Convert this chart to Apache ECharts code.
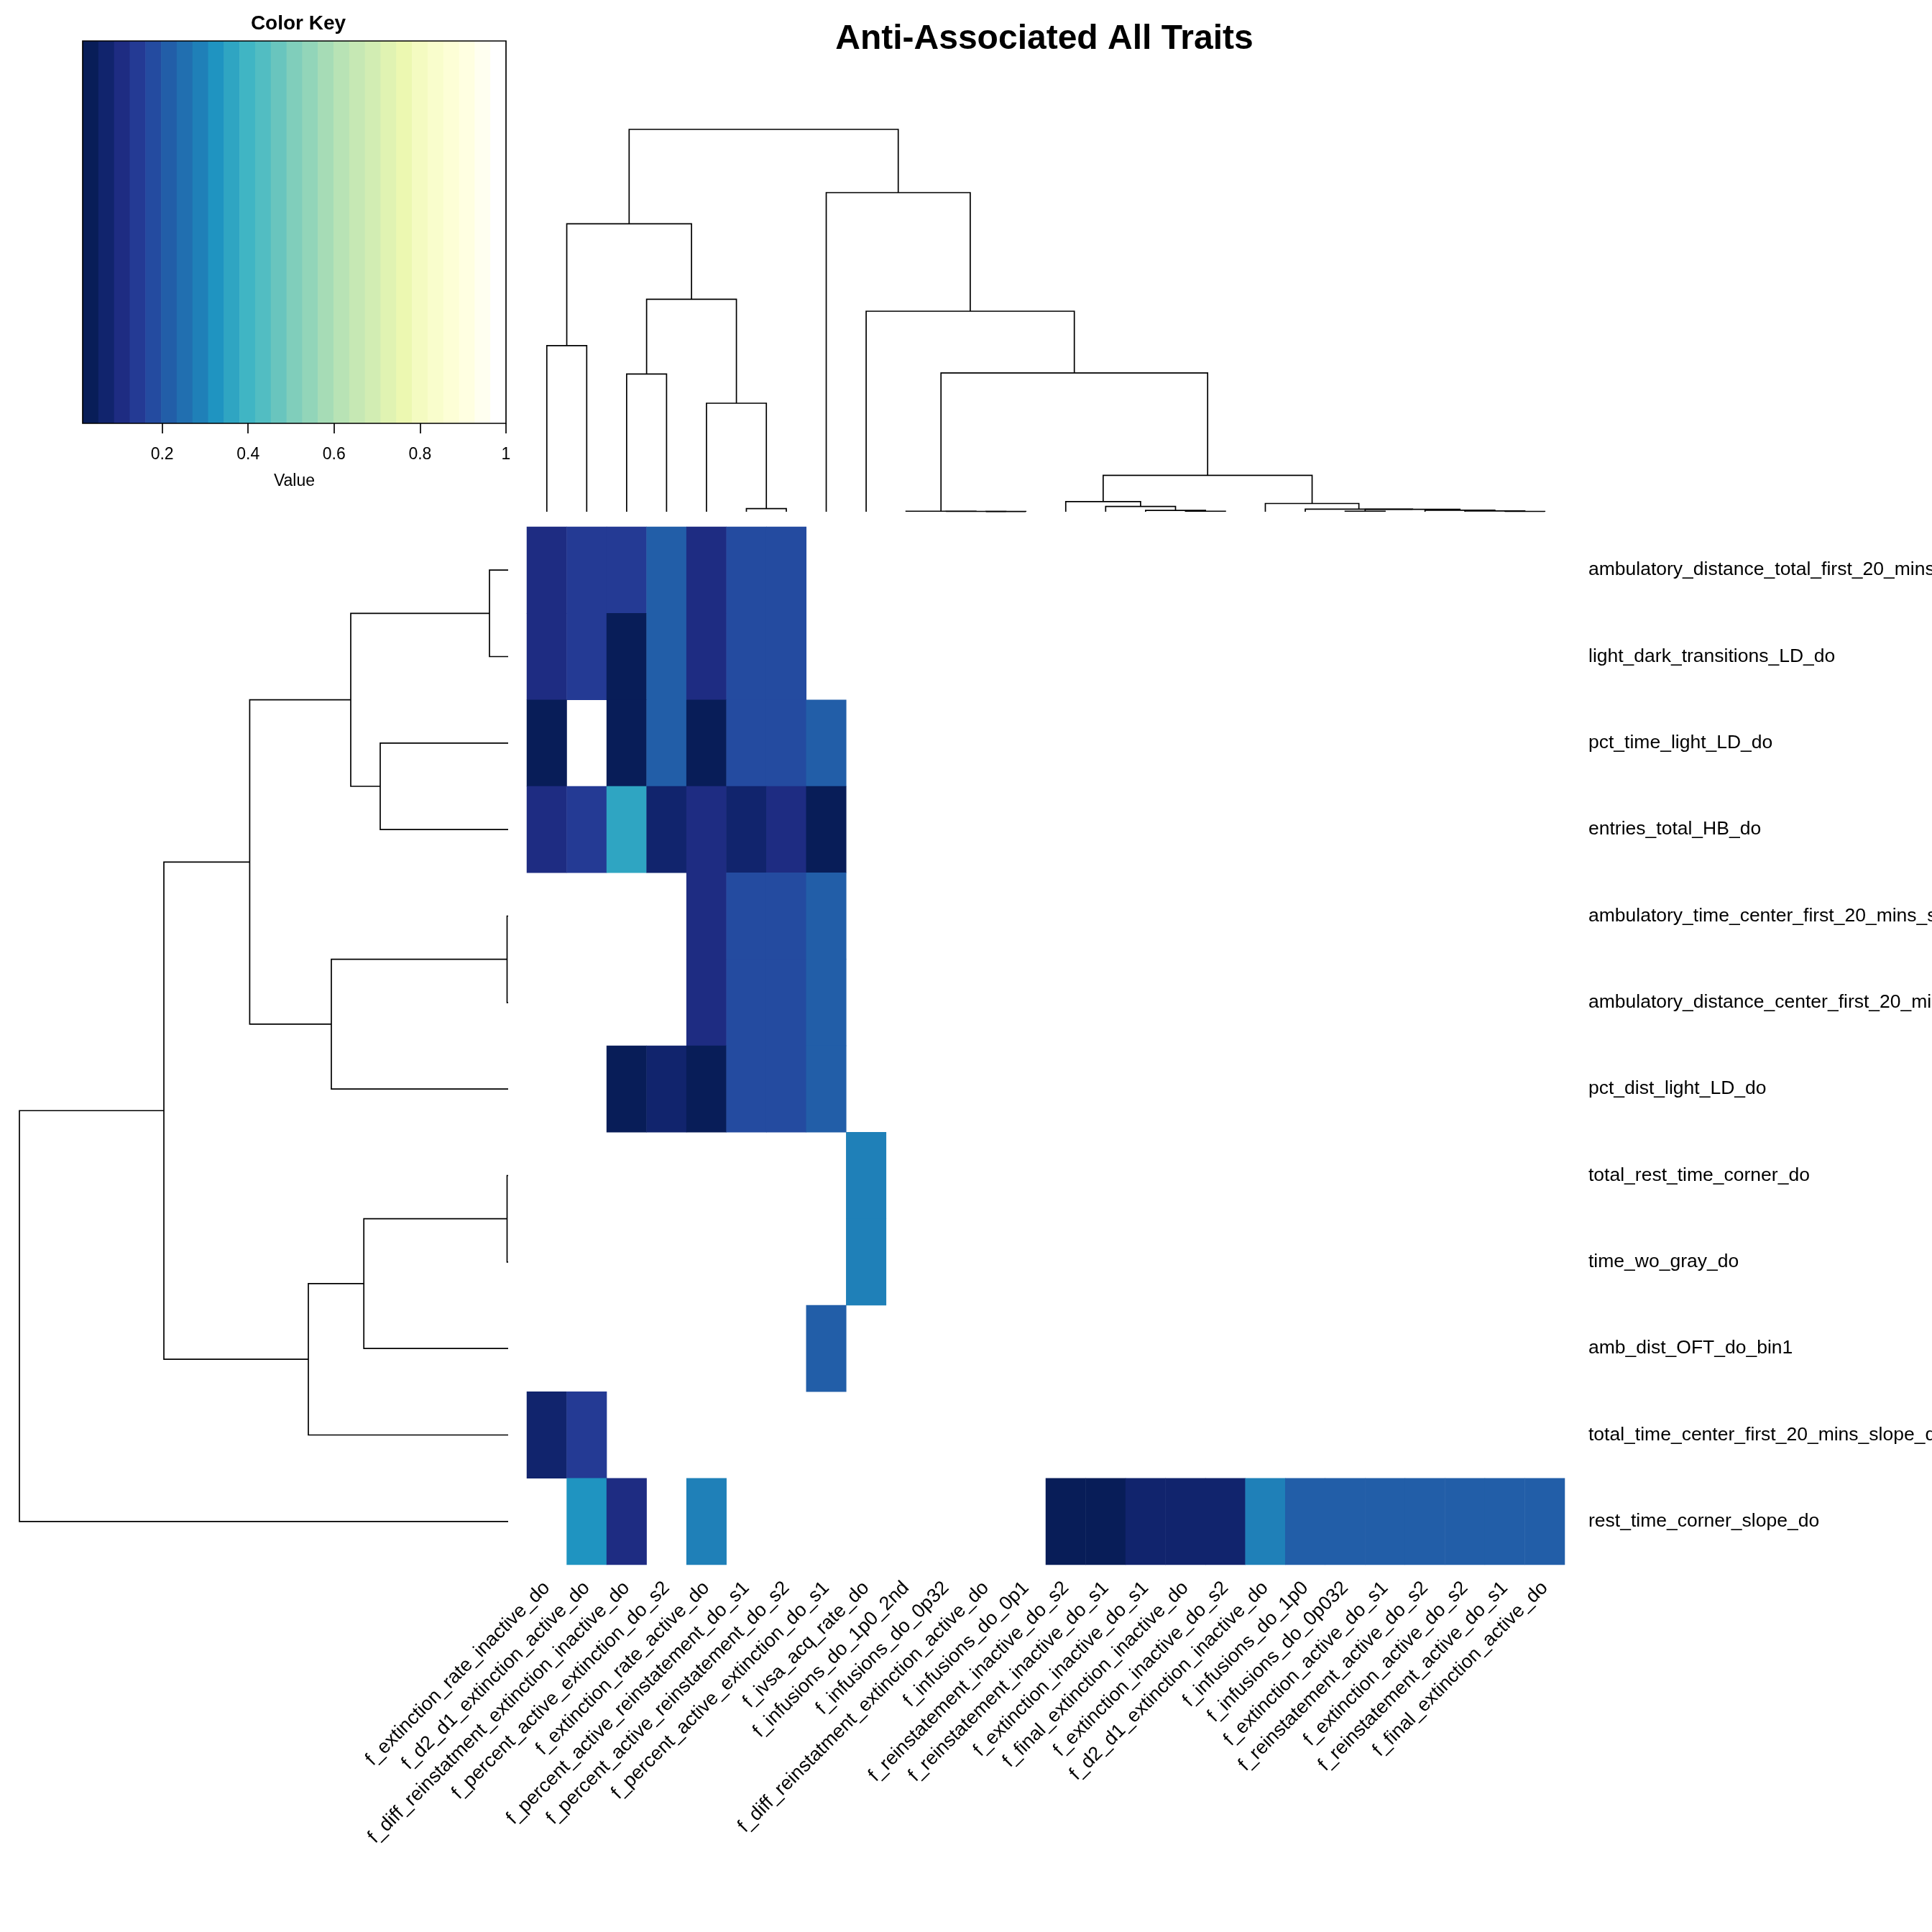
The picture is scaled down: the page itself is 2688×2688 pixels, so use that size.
<!DOCTYPE html>
<html><head><meta charset="utf-8">
<script src="https://cdn.jsdelivr.net/npm/echarts@6/dist/echarts.min.js"></script>
<style>html,body{margin:0;padding:0;background:#fff}#c{width:2688px;height:2688px}</style>
</head><body><div id="c"></div>
<script>
// ---------- data ----------
const colLabels = [
  'f_extinction_rate_inactive_do','f_d2_d1_extinction_active_do','f_diff_reinstatment_extinction_inactive_do',
  'f_percent_active_extinction_do_s2','f_extinction_rate_active_do','f_percent_active_reinstatement_do_s1',
  'f_percent_active_reinstatement_do_s2','f_percent_active_extinction_do_s1','f_ivsa_acq_rate_do',
  'f_infusions_do_1p0_2nd','f_infusions_do_0p32','f_diff_reinstatment_extinction_active_do',
  'f_infusions_do_0p1','f_reinstatement_inactive_do_s2','f_reinstatement_inactive_do_s1',
  'f_extinction_inactive_do_s1','f_final_extinction_inactive_do','f_extinction_inactive_do_s2',
  'f_d2_d1_extinction_inactive_do','f_infusions_do_1p0','f_infusions_do_0p032',
  'f_extinction_active_do_s1','f_reinstatement_active_do_s2','f_extinction_active_do_s2',
  'f_reinstatement_active_do_s1','f_final_extinction_active_do'
];
const rowLabels = [
  'ambulatory_distance_total_first_20_mins_slope_do','light_dark_transitions_LD_do','pct_time_light_LD_do',
  'entries_total_HB_do','ambulatory_time_center_first_20_mins_slope_do','ambulatory_distance_center_first_20_mins_slope_do',
  'pct_dist_light_LD_do','total_rest_time_corner_do','time_wo_gray_do','amb_dist_OFT_do_bin1',
  'total_time_center_first_20_mins_slope_do','rest_time_corner_slope_do'
];
const _ = null;
// one array per row, 26 columns (null = empty cell)
const row01 = [0.105,0.14,0.14,0.215,0.105,0.18,0.18,_,_,_,_,_,_,_,_,_,_,_,_,_,_,_,_,_,_,_];
const row02 = [0.105,0.14,0.03,0.215,0.105,0.18,0.18,_,_,_,_,_,_,_,_,_,_,_,_,_,_,_,_,_,_,_];
const row03 = [0.03,_,0.03,0.215,0.03,0.18,0.18,0.215,_,_,_,_,_,_,_,_,_,_,_,_,_,_,_,_,_,_];
const row04 = [0.105,0.14,0.36,0.07,0.105,0.07,0.105,0.03,_,_,_,_,_,_,_,_,_,_,_,_,_,_,_,_,_,_];
const row05 = [_,_,_,_,0.105,0.18,0.18,0.215,_,_,_,_,_,_,_,_,_,_,_,_,_,_,_,_,_,_];
const row06 = [_,_,_,_,0.105,0.18,0.18,0.215,_,_,_,_,_,_,_,_,_,_,_,_,_,_,_,_,_,_];
const row07 = [_,_,0.03,0.07,0.03,0.18,0.18,0.215,_,_,_,_,_,_,_,_,_,_,_,_,_,_,_,_,_,_];
const row08 = [_,_,_,_,_,_,_,_,0.29,_,_,_,_,_,_,_,_,_,_,_,_,_,_,_,_,_];
const row09 = [_,_,_,_,_,_,_,_,0.29,_,_,_,_,_,_,_,_,_,_,_,_,_,_,_,_,_];
const row10 = [_,_,_,_,_,_,_,0.215,_,_,_,_,_,_,_,_,_,_,_,_,_,_,_,_,_,_];
const row11 = [0.07,0.14,_,_,_,_,_,_,_,_,_,_,_,_,_,_,_,_,_,_,_,_,_,_,_,_];
const row12 = [_,0.325,0.105,_,0.29,_,_,_,_,_,_,_,_,0.03,0.03,0.07,0.07,0.07,0.29,0.215,0.215,0.215,0.215,0.215,0.215,0.215];
const values = [row01,row02,row03,row04,row05,row06,row07,row08,row09,row10,row11,row12];

// colour key breaks and colours
const keyBreaks = [0.015,0.0515,0.088,0.1244,0.1609,0.1974,0.2339,0.2704,0.3069,0.3433,0.3798,0.4163,0.4528,
  0.4893,0.5257,0.5622,0.5987,0.6352,0.6717,0.7081,0.7446,0.7811,0.8176,0.8541,0.8906,0.927,0.9635,1.0];
const keyColors = ['#081d58','#11246d','#1e2c82','#243a94','#244ba0','#225ea8','#216fb0','#1f80b8','#1f94c1',
  '#2fa5c2','#40b5c4','#52bdc2','#69c5be','#80cebb','#92d5b9','#a6dcb6','#b8e3b5','#c6e8b4','#d2edb3',
  '#e0f3b2','#ecf8b1','#f4fbc1','#f9fdcc','#fdfed6','#ffffe1','#fffff0','#ffffff'];
const keyTicks = [0.2,0.4,0.6,0.8,1];

// dendrograms (hclust style: negative = leaf in display order, positive = earlier merge)
const colMerges = [[-6,-7],[-5,1],[-3,-4],[3,2],[-1,-2],[5,4],[-12,-13],[-11,7],[-10,8],[-17,-18],[-16,10],
  [-15,11],[-14,12],[-25,-26],[-24,14],[-23,15],[-21,-22],[17,16],[-20,18],[-19,19],[13,20],[9,21],[-9,22],[-8,23],[6,24]];
const colHeights = [4.4,151,191.6,295.6,231.2,400.7,0.3,0.5,0.74,0.74,1.85,7.4,14.1,0.5,1.2,2.2,0.74,3.3,3.7,11.5,50.7,193.1,279,444,532];
const rowMerges = [[-1,-2],[-3,-4],[1,2],[-5,-6],[4,-7],[3,5],[-8,-9],[7,-10],[8,-11],[6,9],[10,-12]];
const rowHeights = [26,178,219,1.5,246,359.6,1.5,200.8,278,479,680];

// ---------- build ----------
function dendroSegments(merges, heights){
  const pos = [], segs = [];
  merges.forEach((m, i) => {
    const p = m.map(k => k < 0 ? (-k - 0.5) : pos[k - 1]);
    const h = m.map(k => k < 0 ? 0 : heights[k - 1]);
    pos.push((p[0] + p[1]) / 2);
    segs.push([p[0], h[0], p[1], h[1], heights[i]]);
  });
  return segs;
}
const heatData = [];
values.forEach((row, r) => row.forEach((v, c) => { if (v !== null) heatData.push([c, r, v]); }));

const FONT = "'Liberation Sans', Arial, Helvetica, sans-serif";
const LW = 1.7;
const chart = echarts.init(document.getElementById('c'), null, {renderer: 'canvas'});

const hidden = (o) => Object.assign({show: false}, o);
const G = (o) => Object.assign({containLabel: false, outerBoundsMode: 'none'}, o);

chart.setOption({
  animation: false,
  backgroundColor: '#fff',
  title: [
    {text: 'Anti-Associated All Traits', left: 1448, top: 26, textAlign: 'center',
     textStyle: {fontFamily: FONT, fontSize: 48, fontWeight: 'bold', color: '#000'}},
    {text: 'Color Key', left: 410, top: 14, textAlign: 'center',
     textStyle: {fontFamily: FONT, fontSize: 28, fontWeight: 'bold', color: '#000'}}
  ],
  grid: [
    G({left: 733, top: 733, width: 1444, height: 1444}),
    G({left: 733, top: 180, width: 1444, height: 532}),
    G({left: 27, top: 733, width: 680, height: 1444}),
    G({left: 115, top: 57, width: 589, height: 532})
  ],
  xAxis: [
    {type: 'category', gridIndex: 0, data: colLabels, position: 'bottom',
     axisLine: {show: false}, axisTick: {show: false}, splitLine: {show: false},
     axisLabel: {interval: 0, rotate: 45, margin: 28, fontSize: 27, fontFamily: FONT, color: '#000'}},
    hidden({type: 'value', gridIndex: 1, min: 0, max: 26}),
    hidden({type: 'value', gridIndex: 2, min: 0, max: 680, inverse: true}),
    {type: 'value', gridIndex: 3, min: 0.015, max: 1, position: 'bottom',
     name: 'Value', nameLocation: 'middle', nameGap: 69,
     nameTextStyle: {fontFamily: FONT, fontSize: 23, color: '#000'},
     axisLine: {show: false}, splitLine: {show: false},
     axisTick: {show: true, customValues: keyTicks, length: 14, lineStyle: {color: '#000', width: LW}},
     axisLabel: {customValues: keyTicks, margin: 32, fontSize: 23, fontFamily: FONT, color: '#000',
                 formatter: v => String(v)}}
  ],
  yAxis: [
    {type: 'category', gridIndex: 0, data: rowLabels, inverse: true, position: 'right',
     axisLine: {show: false}, axisTick: {show: false}, splitLine: {show: false},
     axisLabel: {interval: 0, margin: 33, fontSize: 26.5, fontFamily: FONT, color: '#000', align: 'left'}},
    hidden({type: 'value', gridIndex: 1, min: 0, max: 532}),
    hidden({type: 'value', gridIndex: 2, min: 0, max: 12, inverse: true}),
    hidden({type: 'value', gridIndex: 3, min: 0, max: 1})
  ],
  visualMap: {
    type: 'piecewise', show: false, seriesIndex: 0, dimension: 2,
    pieces: keyColors.map((c, i) => i === keyColors.length - 1
      ? {gte: keyBreaks[i], lte: keyBreaks[i + 1], color: c}
      : {gte: keyBreaks[i], lt: keyBreaks[i + 1], color: c})
  },
  series: [
    {type: 'heatmap', xAxisIndex: 0, yAxisIndex: 0, data: heatData, progressive: 0,
     emphasis: {disabled: true}, itemStyle: {borderWidth: 0}},
    {type: 'custom', xAxisIndex: 1, yAxisIndex: 1, data: dendroSegments(colMerges, colHeights),
     renderItem: (params, api) => {
       const a = api.value(0), ha = api.value(1), b = api.value(2), hb = api.value(3), h = api.value(4);
       return {type: 'polyline', shape: {points: [api.coord([a, ha]), api.coord([a, h]), api.coord([b, h]), api.coord([b, hb])]},
               style: {stroke: '#000', lineWidth: LW, fill: null}};
     }},
    {type: 'custom', xAxisIndex: 2, yAxisIndex: 2, data: dendroSegments(rowMerges, rowHeights),
     renderItem: (params, api) => {
       const a = api.value(0), ha = api.value(1), b = api.value(2), hb = api.value(3), h = api.value(4);
       return {type: 'polyline', shape: {points: [api.coord([ha, a]), api.coord([h, a]), api.coord([h, b]), api.coord([hb, b])]},
               style: {stroke: '#000', lineWidth: LW, fill: null}};
     }},
    {type: 'custom', xAxisIndex: 3, yAxisIndex: 3,
     data: keyColors.map((c, i) => [keyBreaks[i], keyBreaks[i + 1], i]),
     renderItem: (params, api) => {
       const p0 = api.coord([api.value(0), 1]), p1 = api.coord([api.value(1), 0]);
       return {type: 'rect', shape: {x: p0[0], y: p0[1], width: p1[0] - p0[0] + 0.6, height: p1[1] - p0[1]},
               style: {fill: keyColors[api.value(2)]}};
     }},
    {type: 'custom', xAxisIndex: 3, yAxisIndex: 3, z: 5,
     data: [[keyBreaks[0], keyBreaks[keyBreaks.length - 1]]],
     renderItem: (params, api) => {
       const p0 = api.coord([api.value(0), 1]), p1 = api.coord([api.value(1), 0]);
       return {type: 'rect', shape: {x: p0[0], y: p0[1], width: p1[0] - p0[0], height: p1[1] - p0[1]},
               style: {fill: null, stroke: '#000', lineWidth: LW}};
     }}
  ]
});
</script></body></html>
